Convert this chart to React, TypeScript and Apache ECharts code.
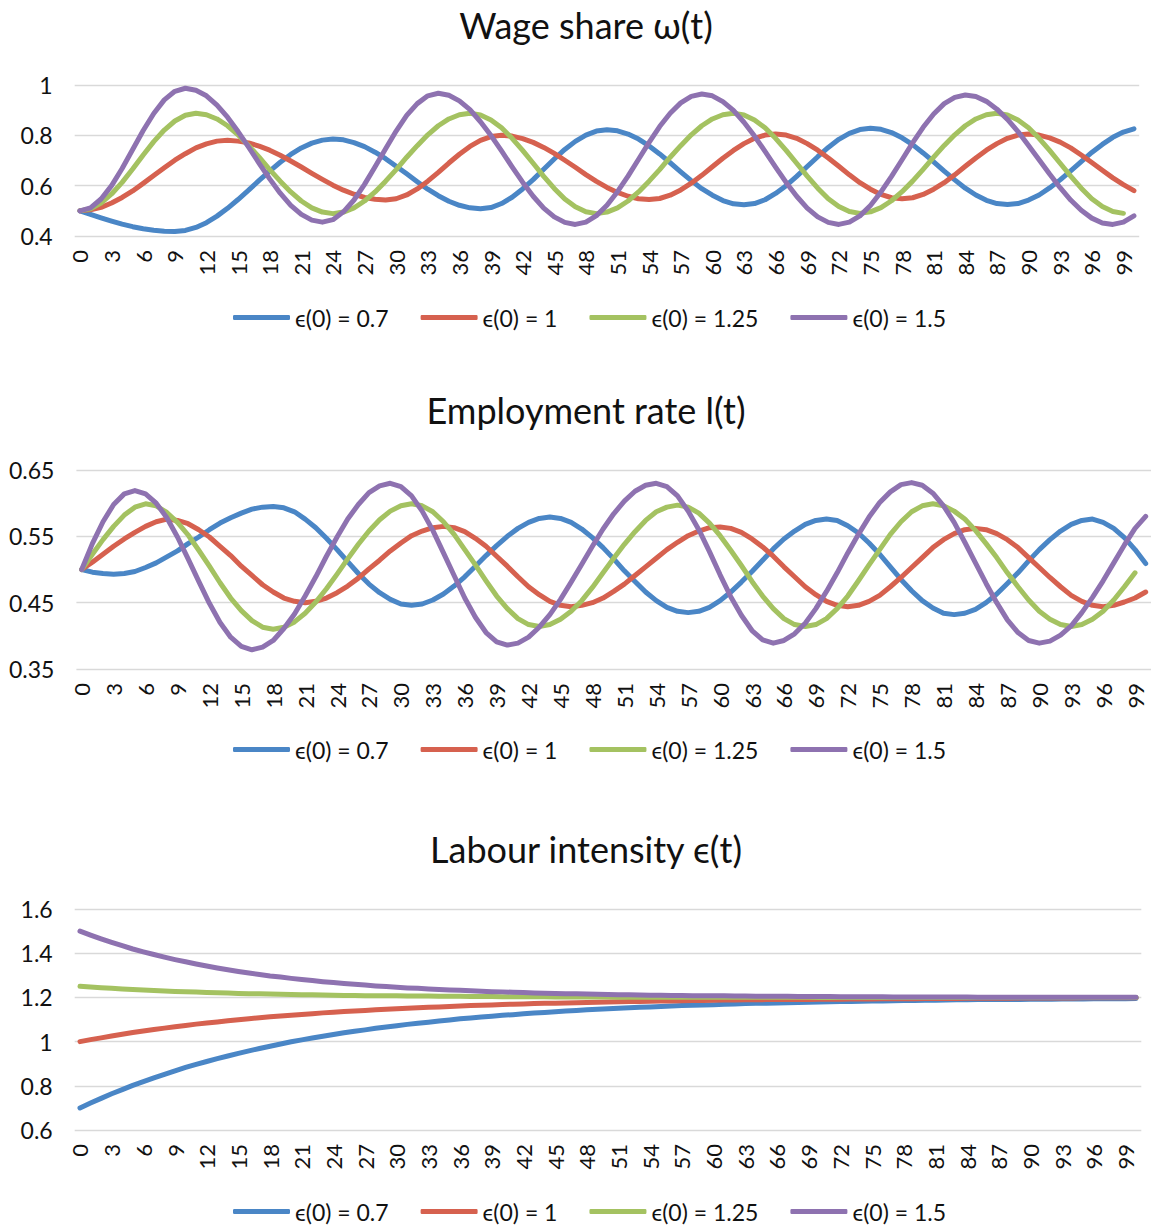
import React, { useEffect, useRef } from "react";
import * as echarts from "echarts";

const categories = Array.from({ length: 101 }, (_, i) => String(i));
const seriesNames = ["ϵ(0) = 0.7", "ϵ(0) = 1", "ϵ(0) = 1.25", "ϵ(0) = 1.5"];
const colors = ["#4A86C6", "#D6614F", "#A4C261", "#8E72B0"];
const titles = ["Wage share ω(t)", "Employment rate l(t)", "Labour intensity ϵ(t)"];

// Wage share ω(t)
const wage07 = [.500,.486,.472,.459,.447,.437,.429,.423,.419,.418, .422,.434,.453,.479,.510,.545,.582,.621,.658,.693, .724,.750,.769,.781,.785,.782,.771,.755,.733,.707, .677,.647,.616,.586,.560,.538,.522,.512,.508,.513, .529,.554,.587,.624,.665,.706,.744,.776,.801,.817, .822,.818,.805,.785,.758,.726,.691,.655,.620,.588, .562,.541,.528,.524,.529,.544,.569,.600,.637,.676, .715,.752,.784,.808,.823,.828,.824,.811,.790,.763, .730,.695,.658,.623,.590,.563,.542,.529,.525,.529, .543,.563,.591,.623,.659,.696,.732,.764,.792,.813,.826];
const wage1 = [.500,.504,.514,.531,.553,.579,.609,.640,.671,.701, .727,.750,.766,.777,.780,.777,.770,.757,.741,.721, .698,.674,.649,.625,.602,.582,.566,.553,.546,.543, .548,.563,.587,.618,.653,.690,.725,.756,.780,.795, .800,.797,.787,.772,.752,.728,.701,.673,.644,.617, .593,.573,.558,.548,.545,.549,.562,.583,.610,.641, .675,.709,.740,.767,.788,.801,.805,.801,.788,.767, .741,.710,.677,.643,.612,.586,.565,.552,.548,.552, .565,.586,.612,.643,.677,.710,.741,.767,.788,.801, .805,.801,.790,.773,.750,.722,.692,.661,.631,.604,.580];
const wage125 = [.500,.508,.531,.567,.613,.666,.722,.775,.821,.857, .880,.888,.882,.865,.838,.802,.759,.713,.664,.618, .575,.539,.512,.495,.489,.495,.512,.539,.575,.618, .664,.713,.759,.802,.838,.865,.882,.888,.881,.861, .830,.788,.740,.689,.637,.589,.547,.516,.496,.489, .495,.512,.539,.575,.618,.664,.713,.759,.802,.838, .865,.882,.888,.881,.861,.830,.788,.740,.689,.638, .590,.548,.517,.497,.490,.496,.513,.540,.576,.618, .665,.713,.760,.802,.838,.865,.882,.888,.881,.861, .830,.788,.740,.689,.638,.590,.548,.517,.497,.490];
const wage15 = [.500,.512,.547,.600,.668,.744,.819,.887,.941,.975, .987,.979,.957,.920,.872,.815,.753,.689,.627,.570, .522,.486,.463,.455,.465,.496,.543,.605,.675,.747, .817,.879,.926,.957,.967,.959,.937,.902,.854,.799, .738,.675,.614,.558,.511,.476,.454,.446,.455,.481, .522,.576,.638,.705,.772,.835,.888,.929,.955,.964, .957,.934,.899,.852,.797,.736,.674,.613,.558,.511, .476,.454,.446,.455,.480,.521,.575,.637,.703,.770, .832,.885,.926,.951,.960,.954,.935,.904,.863,.815, .760,.703,.646,.592,.543,.502,.471,.452,.446,.455,.480];

// Employment rate l(t)
const emp07 = [.500,.496,.494,.493,.494,.497,.503,.510,.519,.528, .539,.549,.560,.570,.578,.585,.591,.594,.595,.593, .587,.576,.563,.547,.530,.512,.494,.478,.465,.455, .448,.446,.448,.454,.463,.475,.489,.505,.521,.536, .550,.562,.571,.577,.579,.577,.571,.561,.548,.533, .516,.498,.482,.466,.453,.443,.437,.435,.437,.443, .453,.466,.481,.497,.514,.531,.546,.558,.568,.574, .576,.574,.566,.555,.540,.523,.504,.485,.468,.453, .442,.434,.432,.434,.440,.450,.463,.479,.495,.513, .530,.545,.558,.568,.574,.576,.571,.562,.548,.530,.509];
const emp1 = [.500,.511,.523,.535,.546,.556,.565,.572,.576,.574, .569,.560,.549,.535,.521,.505,.491,.477,.466,.457, .452,.450,.452,.457,.465,.475,.487,.501,.514,.528, .540,.551,.558,.563,.565,.563,.557,.547,.535,.520, .505,.489,.474,.462,.452,.446,.444,.446,.450,.457, .467,.478,.491,.504,.517,.530,.541,.551,.558,.563, .564,.562,.556,.546,.534,.520,.504,.489,.474,.462, .452,.446,.444,.446,.452,.461,.474,.488,.503,.518, .533,.545,.554,.560,.562,.560,.554,.545,.533,.518, .503,.488,.474,.461,.452,.446,.444,.446,.451,.457,.466];
const emp125 = [.500,.523,.545,.565,.582,.594,.599,.596,.586,.571, .552,.529,.505,.480,.457,.438,.423,.413,.410,.413, .421,.434,.451,.471,.493,.516,.538,.558,.575,.588, .596,.599,.596,.587,.572,.553,.530,.507,.483,.460, .441,.426,.417,.414,.417,.425,.437,.453,.473,.495, .517,.538,.557,.574,.587,.594,.597,.594,.585,.570, .551,.529,.506,.482,.460,.441,.426,.417,.414,.417, .426,.441,.460,.483,.507,.530,.553,.572,.587,.596, .599,.596,.588,.576,.559,.539,.518,.495,.474,.454, .437,.425,.417,.414,.417,.425,.437,.454,.474,.495];
const emp15 = [.500,.539,.572,.598,.614,.619,.614,.600,.578,.549, .516,.482,.449,.420,.398,.384,.379,.383,.393,.411, .433,.460,.489,.520,.549,.576,.598,.616,.626,.630, .625,.611,.588,.559,.525,.491,.457,.428,.405,.391, .386,.389,.398,.413,.432,.455,.481,.508,.535,.561, .584,.603,.618,.627,.630,.625,.611,.588,.560,.527, .492,.459,.431,.408,.394,.389,.393,.403,.419,.441, .467,.495,.525,.553,.579,.601,.617,.628,.631,.627, .615,.596,.571,.541,.510,.479,.450,.424,.405,.393, .389,.392,.401,.415,.435,.458,.483,.510,.537,.562,.580];

// Labour intensity ϵ(t)
const lab07 = [0.700,0.722,0.743,0.764,0.783,0.802,0.819,0.836,0.852,0.868, 0.883,0.897,0.910,0.923,0.935,0.947,0.958,0.969,0.979,0.989, 0.999,1.008,1.016,1.024,1.032,1.040,1.047,1.053,1.060,1.066, 1.072,1.078,1.083,1.088,1.093,1.098,1.103,1.107,1.111,1.115, 1.119,1.122,1.126,1.129,1.132,1.135,1.138,1.141,1.144,1.146, 1.149,1.151,1.153,1.155,1.157,1.159,1.161,1.163,1.164,1.166, 1.167,1.169,1.170,1.172,1.173,1.174,1.175,1.176,1.177,1.178, 1.179,1.180,1.181,1.182,1.183,1.184,1.184,1.185,1.186,1.186, 1.187,1.187,1.188,1.189,1.189,1.190,1.190,1.190,1.191,1.191, 1.192,1.192,1.192,1.193,1.193,1.193,1.194,1.194,1.194,1.194,1.195];
const lab1 = [1.000,1.009,1.017,1.025,1.033,1.041,1.048,1.055,1.061,1.067, 1.073,1.079,1.084,1.089,1.094,1.099,1.103,1.108,1.112,1.116, 1.119,1.123,1.126,1.130,1.133,1.136,1.139,1.141,1.144,1.146, 1.149,1.151,1.153,1.155,1.157,1.159,1.161,1.163,1.164,1.166, 1.168,1.169,1.170,1.172,1.173,1.174,1.175,1.176,1.177,1.178, 1.179,1.180,1.181,1.182,1.183,1.184,1.184,1.185,1.186,1.186, 1.187,1.188,1.188,1.189,1.189,1.190,1.190,1.190,1.191,1.191, 1.192,1.192,1.192,1.193,1.193,1.193,1.194,1.194,1.194,1.194, 1.195,1.195,1.195,1.195,1.196,1.196,1.196,1.196,1.196,1.197, 1.197,1.197,1.197,1.197,1.197,1.198,1.198,1.198,1.198,1.198,1.198];
const lab125 = [1.250,1.247,1.244,1.241,1.238,1.236,1.234,1.231,1.229,1.227, 1.226,1.224,1.222,1.221,1.220,1.218,1.217,1.216,1.215,1.214, 1.213,1.212,1.212,1.211,1.210,1.209,1.209,1.208,1.208,1.207, 1.207,1.206,1.206,1.206,1.205,1.205,1.205,1.204,1.204,1.204, 1.203,1.203,1.203,1.203,1.203,1.202,1.202,1.202,1.202,1.202, 1.202,1.201,1.201,1.201,1.201,1.201,1.201,1.201,1.201,1.201, 1.201,1.201,1.201,1.201,1.201,1.201,1.201,1.201,1.201,1.201, 1.200,1.200,1.200,1.200,1.200,1.200,1.200,1.200,1.200,1.200, 1.200,1.200,1.200,1.200,1.200,1.200,1.200,1.200,1.200,1.200, 1.200,1.200,1.200,1.200,1.200,1.200,1.200,1.200,1.200,1.200,1.200];
const lab15 = [1.500,1.482,1.465,1.449,1.434,1.419,1.406,1.394,1.382,1.371, 1.361,1.351,1.342,1.333,1.325,1.317,1.310,1.304,1.297,1.292, 1.286,1.281,1.276,1.271,1.267,1.263,1.259,1.256,1.252,1.249, 1.246,1.243,1.241,1.238,1.236,1.234,1.232,1.230,1.228,1.226, 1.225,1.223,1.222,1.220,1.219,1.218,1.217,1.216,1.215,1.214, 1.213,1.212,1.212,1.211,1.210,1.210,1.209,1.209,1.208,1.208, 1.207,1.207,1.206,1.206,1.205,1.205,1.205,1.205,1.204,1.204, 1.204,1.204,1.203,1.203,1.203,1.203,1.203,1.202,1.202,1.202, 1.202,1.202,1.202,1.202,1.202,1.201,1.201,1.201,1.201,1.201, 1.201,1.201,1.201,1.201,1.201,1.201,1.201,1.201,1.201,1.201,1.201];

const yMins = [0.4, 0.35, 0.6];
const yMaxs = [1, 0.65, 1.6];
const yIntervals = [0.2, 0.1, 0.2];
const panelData = [
  [wage07, wage1, wage125, wage15],
  [emp07, emp1, emp125, emp15],
  [lab07, lab1, lab125, lab15],
];

const FONT = "Lato, 'Noto Sans', 'DejaVu Sans', sans-serif";
const TEXT = "#111111";

export default function App() {
  const ref = useRef<HTMLDivElement>(null);
  useEffect(() => {
    if (!ref.current) return;
    const chart = echarts.init(ref.current, undefined, { renderer: "svg" });
    const grids = [
      { left: 74.7, top: 85, width: 1064.5, height: 151 },
      { left: 76.4, top: 470, width: 1075.6, height: 199 },
      { left: 74.7, top: 909, width: 1066.6, height: 221 },
    ];
    const titleTops = [7, 392, 831];
    const legendTops = [306, 738, 1200];
    const option: any = {
      animation: false,
      backgroundColor: "#ffffff",
      textStyle: { fontFamily: FONT },
      title: titles.map((t, i) => ({
        text: t,
        left: 586,
        textAlign: "center",
        top: titleTops[i],
        padding: 0,
        textStyle: { fontFamily: FONT, fontSize: 36, fontWeight: "normal", color: TEXT },
      })),
      legend: legendTops.map((top) => ({
        data: seriesNames,
        left: 233,
        top,
        padding: 0,
        icon: "roundRect",
        itemWidth: 57,
        itemHeight: 5,
        itemGap: 32,
        textStyle: { fontFamily: FONT, fontSize: 23, color: TEXT },
      })),
      grid: grids.map((g) => ({ ...g, containLabel: false })),
      xAxis: grids.map((_, i) => ({
        type: "category",
        gridIndex: i,
        data: categories,
        boundaryGap: true,
        axisLine: { show: false },
        axisTick: { show: false },
        splitLine: { show: false },
        axisLabel: { interval: 2, rotate: 90, fontSize: 22, margin: 14, color: TEXT, fontFamily: FONT },
      })),
      yAxis: grids.map((_, i) => ({
        type: "value",
        gridIndex: i,
        min: yMins[i],
        max: yMaxs[i],
        interval: yIntervals[i],
        axisLine: { show: false },
        axisTick: { show: false },
        splitLine: { lineStyle: { color: "#D9D9D9", width: 1.3 } },
        axisLabel: { fontSize: 23, margin: 22, color: TEXT, fontFamily: FONT },
      })),
      series: panelData.flatMap((arrs, p) =>
        arrs.map((arr, s) => ({
          type: "line",
          name: seriesNames[s],
          xAxisIndex: p,
          yAxisIndex: p,
          data: arr,
          symbol: "none",
          showSymbol: false,
          smooth: false,
          color: colors[s],
          lineStyle: { width: 5, color: colors[s], cap: "round", join: "round" },
          emphasis: { disabled: true },
        }))
      ),
    };
    chart.setOption(option);
    return () => chart.dispose();
  }, []);
  return (
    <div
      ref={ref}
      style={{ position: "absolute", left: 0, top: 0, width: 1151, height: 1229, background: "#fff" }}
    />
  );
}
